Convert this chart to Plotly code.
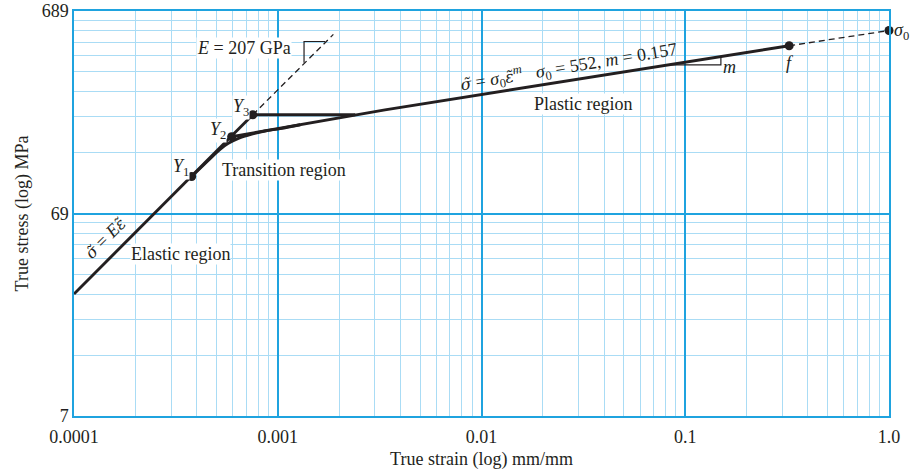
import plotly.graph_objects as go
import numpy as np

# ---------------- data ----------------
# elastic line (solid), from left edge up to Y3
elastic_eps = [1.0e-4, 3.78e-4, 5.94e-4, 7.54e-4]
elastic_sig = [27.6, 105.0, 165.0, 211.7]
# elastic extension (dashed)
elastic_ext_eps = [7.54e-4, 1.875e-3]
elastic_ext_sig = [211.7, 528.0]
# yield points
yield_labels = ["Y1", "Y2", "Y3"]
yield_eps = [3.78e-4, 5.94e-4, 7.54e-4]
yield_sig = [105.0, 165.0, 211.7]
# horizontal line from Y3 to plastic line
horiz_eps = [7.54e-4, 2.40e-3]
horiz_sig = [211.7, 211.7]
# smooth transition curve
trans_eps = [3.78e-4, 4.71e-4, 5.21e-4, 5.72e-4, 6.41e-4, 7.46e-4, 8.66e-4, 1.03e-3, 1.29e-3]
trans_sig = [105.0, 130.0, 143.0, 153.0, 162.0, 170.0, 176.0, 181.0, 189.0]
# plastic line (solid) from Y2 to fracture f
plastic_eps = [5.94e-4, 3.36e-3, 0.3236]
plastic_sig = [165.0, 224.0, 464.0]
# plastic extension to sigma0 (dashed)
plastic_ext_eps = [0.3236, 1.0]
plastic_ext_sig = [464.0, 552.0]
# end points f and sigma0
end_eps = [0.3236, 1.0]
end_sig = [464.0, 552.0]
# slope triangles
tri_E_eps = [1.346e-3, 1.346e-3, 1.707e-3]
tri_E_sig = [382.0, 487.0, 487.0]
tri_m_eps = [0.0834, 0.1496, 0.1496]
tri_m_sig = [373.7, 373.7, 409.7]

# axes ticks
x_tickvals = [1e-4, 1e-3, 1e-2, 1e-1, 1.0]
x_ticktext = ["0.0001", "0.001", "0.01", "0.1", "1.0"]
y_tickvals = [6.89, 68.9, 689.0]
y_ticktext = ["7", "69", "689"]

INK = "#231f20"
MAJ = "#1fa3df"
MIN = "#aadcf5"
FONT = "Liberation Serif"

x_minor = [m * 10.0 ** e for e in range(-4, 0) for m in range(2, 10)]
y_minor = [m * v for v in [6.89, 68.9] for m in range(2, 10)]

fig = go.Figure()


def line(x, y, width=2.9, dash=None, shape="linear"):
    fig.add_trace(go.Scatter(x=x, y=y, mode="lines", hoverinfo="skip",
                             line=dict(color=INK, width=width, dash=dash, shape=shape),
                             showlegend=False))


line(elastic_eps, elastic_sig)
line(elastic_ext_eps, elastic_ext_sig, width=1.3, dash="6px,4px")
line(horiz_eps, horiz_sig)
line(trans_eps, trans_sig, shape="spline")
line(plastic_eps, plastic_sig)
line(plastic_ext_eps, plastic_ext_sig, width=1.3, dash="6px,4px")
line(tri_E_eps, tri_E_sig, width=1.2)
line(tri_m_eps, tri_m_sig, width=1.2)

fig.add_trace(go.Scatter(x=yield_eps + end_eps, y=yield_sig + end_sig, mode="markers",
                         marker=dict(color=INK, size=9), showlegend=False,
                         hoverinfo="skip", cliponaxis=False))

L = np.log10


def ann(text, lx, ly, angle=0, xanchor="center", bg="white", size=18, xref="x", xshift=0):
    kw = dict(bgcolor=bg) if bg else {}
    fig.add_annotation(x=lx, y=ly, xref=xref, yref="y", text=text, showarrow=False,
                       textangle=angle, xanchor=xanchor, yanchor="middle", xshift=xshift,
                       font=dict(family=FONT, size=size, color=INK),
                       borderpad=0, **kw)


def tl(ch):
    # letter with a tilde above, rendered with a font that positions combining marks
    return '<span style="font-family:DejaVu Serif;font-style:italic;font-size:16px">%s\u0303</span>' % ch


ann("<i>E</i> = 207 GPa", -3.165, 2.654)
ann("Elastic region", -3.477, 1.637)
ann("Transition region", -2.969, 2.0515)
ann("Plastic region", -1.504, 2.380)
ann(tl("σ") + " = <i>E</i>" + tl("ε"), -3.848, 1.718, angle=-45, bg=None)
ann(tl("σ") + " = <i>σ</i><sub>0</sub>" + tl("ε") + "<sup><i>m</i></sup>   <i>σ</i><sub>0</sub> = 552, <i>m</i> = 0.157",
    -1.571, 2.562, angle=-9.4, bg=None)
for lab, lx, ly in zip(yield_labels, [-3.4747, -3.2931, -3.1802], [2.0639, 2.2466, 2.3602]):
    ann("<i>Y</i><sub>%s</sub>" % lab[1], lx, ly)
ann("<i>f</i>", -0.485, 2.5824, bg=None)
ann("<i>m</i>", -0.7845, 2.5626, bg=None)
ann("<i>σ</i><sub>0</sub>", 1.0, 2.7355, xanchor="left", bg=None, xref="paper", xshift=4)

axis_common = dict(type="log", showline=True, mirror=True, linecolor=MAJ, linewidth=1.5,
                   showgrid=True, gridcolor=MAJ, gridwidth=1.5, ticks="", zeroline=False,
                   automargin=False,
                   tickfont=dict(family=FONT, size=18, color=INK),
                   title_font=dict(family=FONT, size=18, color=INK))

fig.update_xaxes(**axis_common, range=[-4, 0], tickmode="array", tickvals=x_tickvals,
                 ticktext=x_ticktext, ticklabelstandoff=4,
                 title_text="True strain (log) mm/mm", title_standoff=6,
                 minor=dict(tickmode="array", tickvals=x_minor, showgrid=True,
                            gridcolor=MIN, gridwidth=1.3, ticks=""))
fig.update_yaxes(**axis_common, range=[L(6.89), L(689.0)], tickmode="array",
                 tickvals=y_tickvals, ticktext=y_ticktext,
                 title_text="True stress (log) MPa", title_standoff=8,
                 minor=dict(tickmode="array", tickvals=y_minor, showgrid=True,
                            gridcolor=MIN, gridwidth=1.3, ticks=""))

fig.update_layout(width=913, height=473, margin=dict(l=74, r=24, t=11, b=57),
                  plot_bgcolor="white", paper_bgcolor="white",
                  font=dict(family=FONT, color=INK))

fig.write_html("out.html", config={"displayModeBar": False},
               post_script="document.body.style.margin='0';document.body.style.overflow='hidden';")
